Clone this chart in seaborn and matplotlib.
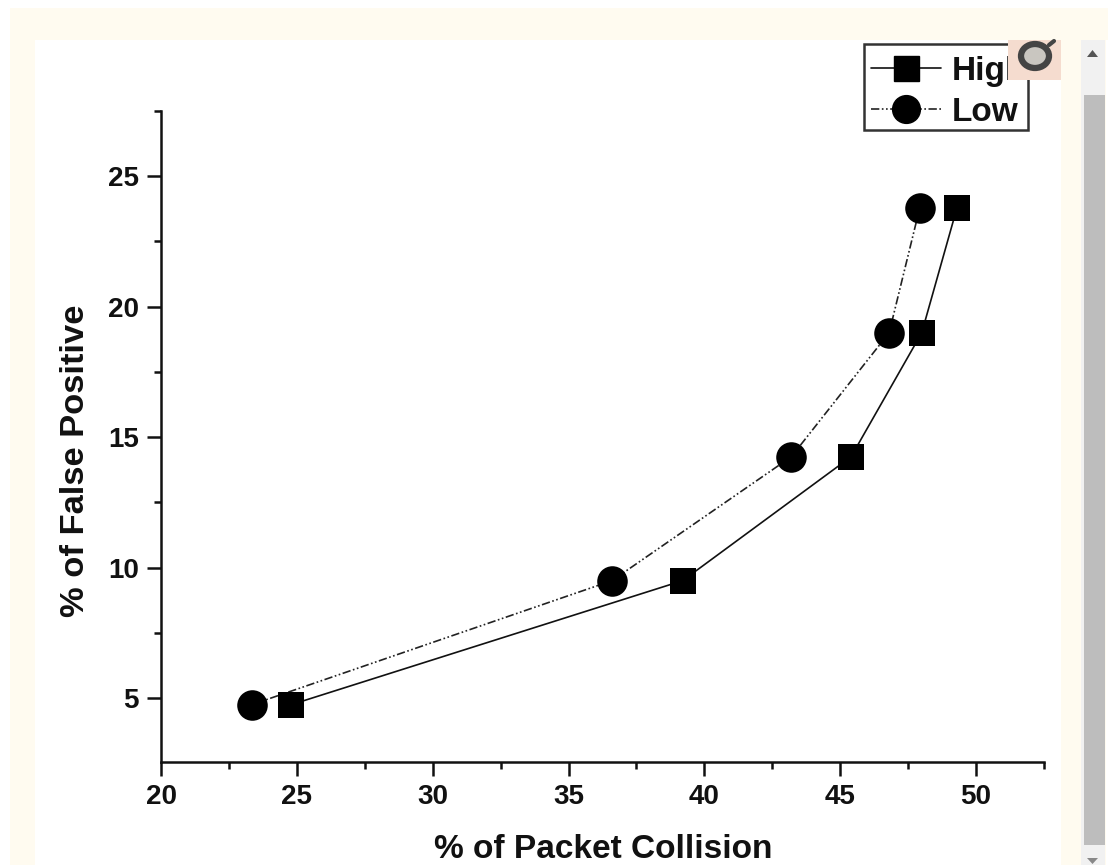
import matplotlib
matplotlib.use("Agg")
import matplotlib.pyplot as plt
import matplotlib.patches as mp
from matplotlib.lines import Line2D
from matplotlib.ticker import MultipleLocator
import seaborn as sns
import pandas as pd

W, H = 1108, 865
collision_high = [24.8, 39.2, 45.4, 48.0, 49.3]
collision_low = [23.35, 36.6, 43.2, 46.8, 47.93]
false_positive = [4.75, 9.5, 14.25, 19.0, 23.8]
series_names = ["High", "Low"]
x_ticks = [20, 25, 30, 35, 40, 45, 50]
y_ticks = [5, 10, 15, 20, 25]

sns.set_theme(style="white")
plt.rcParams['font.family'] = ['Liberation Sans', 'DejaVu Sans']
plt.rcParams['font.weight'] = 'bold'

fig = plt.figure(figsize=(W/100, H/100), dpi=100, facecolor="white")

def box(x0, y0, x1, y1, **kw):
    fig.add_artist(mp.Rectangle((x0/W, 1-y1/H), (x1-x0)/W, (y1-y0)/H,
                                transform=fig.transFigure, lw=0, **kw))

# page chrome
box(10, 8, 1108, 865, color="#fffbf0", zorder=-5)
box(1106, 40, 1108, 865, color="white", zorder=-4)
box(35, 40, 1061, 865, color="white", zorder=-4)
box(1081, 40, 1105, 865, color="#f1f1f1", zorder=-4)
box(1084, 95, 1105, 845, color="#bdbdbd", zorder=-3)
fig.add_artist(mp.Polygon([(1087/W, 1-57/H), (1098/W, 1-57/H), (1092.5/W, 1-50/H)],
                          transform=fig.transFigure, color="#555555", lw=0))
fig.add_artist(mp.Polygon([(1087/W, 1-858/H), (1098/W, 1-858/H), (1092.5/W, 1-864/H)],
                          transform=fig.transFigure, color="#888888", lw=0))

ax = fig.add_axes([161/W, 1-762/H, (1044-161)/W, (762-111)/H])
ax.patch.set_alpha(0)

df = pd.concat([
    pd.DataFrame({"Collision": collision_high, "FP": false_positive, "Level": series_names[0]}),
    pd.DataFrame({"Collision": collision_low, "FP": false_positive, "Level": series_names[1]}),
])
sns.lineplot(data=df, x="Collision", y="FP", hue="Level", style="Level",
             palette={"High": "#111111", "Low": "#222222"},
             dashes={"High": (1, 0), "Low": (5, 1.5, 1, 1.5, 1, 1.5)},
             markers=False, sort=False, estimator=None, lw=1.2, legend=False, ax=ax, zorder=2)
sns.scatterplot(x=collision_high, y=false_positive, marker="s", s=19**2, color="black",
                linewidth=0, ax=ax, zorder=3, legend=False)
sns.scatterplot(x=collision_low, y=false_positive, marker="o", s=22**2, color="black",
                linewidth=0, ax=ax, zorder=3, legend=False)

ax.set_xlim(20, 52.5)
ax.set_ylim(2.55, 27.5)
ax.set_xticks(x_ticks)
ax.set_yticks(y_ticks)
ax.xaxis.set_minor_locator(MultipleLocator(2.5))
ax.yaxis.set_minor_locator(MultipleLocator(2.5))
for s in ("top", "right"):
    ax.spines[s].set_visible(False)
for s in ("left", "bottom"):
    ax.spines[s].set_linewidth(1.8)
    ax.spines[s].set_color("#111111")
ax.tick_params(which="major", length=10, width=1.8, bottom=True, left=True, labelsize=20, pad=6, colors="#111111")
ax.tick_params(which="minor", length=5, width=1.8, bottom=True, left=True, colors="#111111")
ax.set_xlabel("")
ax.set_ylabel("")
fig.text(603/W, 1-850/H, "% of Packet Collision", ha="center", va="center", fontsize=24.1, fontweight="bold", color="#111111")
fig.text(76/W, 1-461/H, "% of False Positive", ha="center", va="center", rotation=90, fontsize=24.8, fontweight="bold", color="#111111")

# legend frame, then legend entries on top of it
ax.add_patch(mp.Rectangle((864/W, 1-130/H), (1028-864)/W, (130-44)/H, transform=fig.transFigure,
                          facecolor="white", edgecolor="#333333", lw=1.8, clip_on=False, zorder=4))
handles = [
    Line2D([], [], color="#111111", lw=1.2, marker="s", ms=18, mfc="black", mec="black"),
    Line2D([], [], color="#222222", lw=1.2, ls=(0, (5, 1.5, 1, 1.5, 1, 1.5)), marker="o", ms=20, mfc="black", mec="black"),
]
leg = ax.legend(handles, series_names, loc="upper left",
                bbox_to_anchor=(864/W, 1-49/H), bbox_transform=fig.transFigure,
                fontsize=24, frameon=False,
                handlelength=2.12, handletextpad=0.3, labelspacing=0.3, borderpad=0.2, borderaxespad=0)
leg.set_zorder(5)
for t in leg.get_texts():
    t.set_color("#111111")

# overlay icon on top of legend
box(1008, 40, 1061, 80, color="#f5dccf", zorder=10)
fig.add_artist(mp.Ellipse((1035/W, 1-56/H), 28/W, 24/H, transform=fig.transFigure,
                          facecolor="#c9c6c0", edgecolor="#444444", lw=4.5, zorder=11))
fig.add_artist(Line2D([1049/W, 1054/W], [1-45/H, 1-41/H], transform=fig.transFigure,
                      color="#444444", lw=3, zorder=11))

fig.savefig("out.png", dpi=100, facecolor=fig.get_facecolor())
